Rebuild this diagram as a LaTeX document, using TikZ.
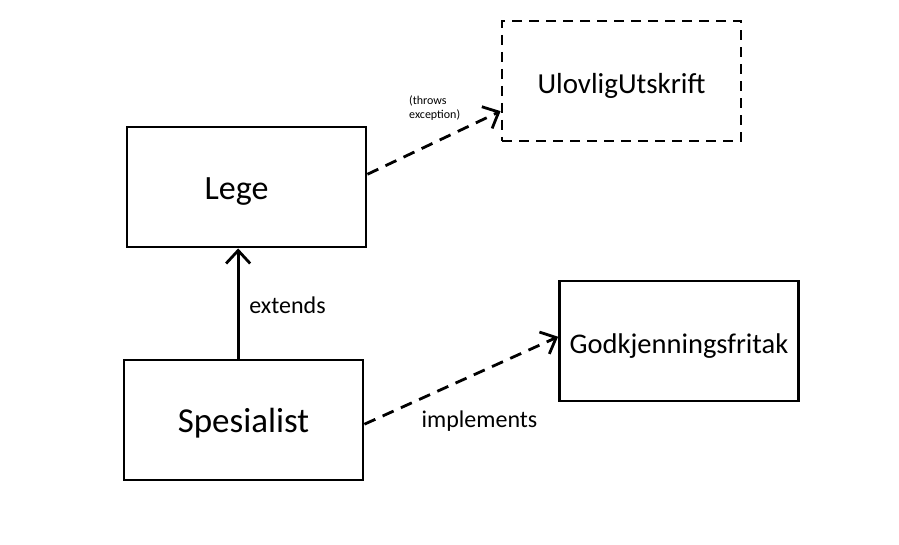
\documentclass[tikz,border=0pt]{standalone}
\usepackage{fontspec}
\setmainfont{Carlito}
\usetikzlibrary{arrows.meta}
\begin{document}
\begin{tikzpicture} [x=1pt,y=-1pt,mybox/.style={rectangle, draw, line width=2.8pt, minimum width=239pt, minimum height=120pt, inner sep=0pt},mybox1/.style={mybox, dash pattern=on 10pt off 7pt},myarr/.style={line width=2.8pt,-{Straight Barb[length=13pt,width=24pt,line width=2.8pt]}},myarr1/.style={myarr, dash pattern=on 12pt off 8pt},mylab/.style={inner sep=0pt, font=\fontsize{24}{28}\selectfont}]
  \useasboundingbox (0,0) rectangle (899,545);

  \node[mybox] (lege) at (246.5,187) {\fontsize{34}{40}\selectfont\hspace*{-20pt}Lege\rule{0pt}{30pt}};
  \node[mybox] (spes) at (243.5,420) {\fontsize{35}{40}\selectfont Spesialist\rule{0pt}{30pt}};
  \node[mybox1] (ulov) at (621.5,81) {\fontsize{29}{34}\selectfont UlovligUtskrift\rule{0pt}{30pt}};
  \node[mybox] (godk) at (679,341) {\fontsize{28.5}{34}\selectfont Godkjenningsfritak\rule{0pt}{30pt}};

  \node[mylab] (ext) at (287.5,305) {extends};
  \node[mylab] (impl) at (479.5,421) {implements};
  \node[inner sep=0pt, anchor=west, align=left, font=\fontsize{12}{14}\selectfont] (thr) at (409,108) {(throws\\exception)};

    \draw[myarr] (spes.95) -- (lege.south -| spes.95);
    \draw[myarr1] (lege.6) -- (ulov.194);
    \draw[myarr1] (spes.-2) -- (godk.178);

\end{tikzpicture}
\end{document}
